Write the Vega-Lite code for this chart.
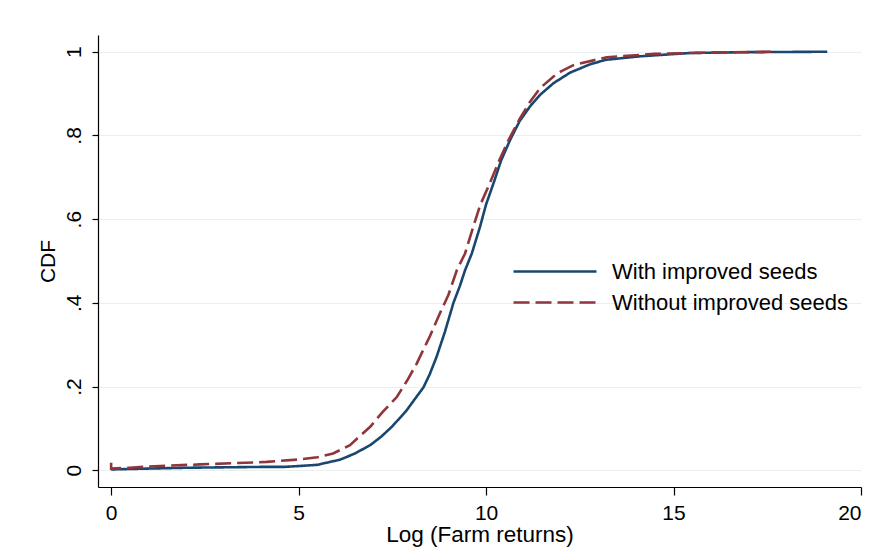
{
  "$schema": "https://vega.github.io/schema/vega-lite/v6.json",
  "autosize": {"type": "none"},
  "width": 763,
  "height": 452,
  "padding": {"left": 98, "top": 35, "right": 10, "bottom": 68},
  "background": "white",
  "config": {"view": {"stroke": null}, "font": "Liberation Sans"},
  "data": {"values": [
    {"group": "With improved seeds", "i": 1, "x": 0, "p": 0.002},
    {"group": "With improved seeds", "i": 2, "x": 1, "p": 0.004},
    {"group": "With improved seeds", "i": 3, "x": 2, "p": 0.006},
    {"group": "With improved seeds", "i": 4, "x": 3, "p": 0.007},
    {"group": "With improved seeds", "i": 5, "x": 4, "p": 0.008},
    {"group": "With improved seeds", "i": 6, "x": 4.6, "p": 0.008},
    {"group": "With improved seeds", "i": 7, "x": 5, "p": 0.01},
    {"group": "With improved seeds", "i": 8, "x": 5.5, "p": 0.013},
    {"group": "With improved seeds", "i": 9, "x": 5.84, "p": 0.02},
    {"group": "With improved seeds", "i": 10, "x": 6.1, "p": 0.025},
    {"group": "With improved seeds", "i": 11, "x": 6.5, "p": 0.04},
    {"group": "With improved seeds", "i": 12, "x": 6.91, "p": 0.06},
    {"group": "With improved seeds", "i": 13, "x": 7.2, "p": 0.08},
    {"group": "With improved seeds", "i": 14, "x": 7.5, "p": 0.105},
    {"group": "With improved seeds", "i": 15, "x": 7.88, "p": 0.143},
    {"group": "With improved seeds", "i": 16, "x": 8.1, "p": 0.17},
    {"group": "With improved seeds", "i": 17, "x": 8.33, "p": 0.198},
    {"group": "With improved seeds", "i": 18, "x": 8.5, "p": 0.23},
    {"group": "With improved seeds", "i": 19, "x": 8.68, "p": 0.271},
    {"group": "With improved seeds", "i": 20, "x": 8.9, "p": 0.33},
    {"group": "With improved seeds", "i": 21, "x": 9.13, "p": 0.4},
    {"group": "With improved seeds", "i": 22, "x": 9.3, "p": 0.44},
    {"group": "With improved seeds", "i": 23, "x": 9.44, "p": 0.478},
    {"group": "With improved seeds", "i": 24, "x": 9.62, "p": 0.518},
    {"group": "With improved seeds", "i": 25, "x": 9.84, "p": 0.582},
    {"group": "With improved seeds", "i": 26, "x": 10.0, "p": 0.635},
    {"group": "With improved seeds", "i": 27, "x": 10.2, "p": 0.686},
    {"group": "With improved seeds", "i": 28, "x": 10.4, "p": 0.74},
    {"group": "With improved seeds", "i": 29, "x": 10.64, "p": 0.789},
    {"group": "With improved seeds", "i": 30, "x": 10.9, "p": 0.835},
    {"group": "With improved seeds", "i": 31, "x": 11.17, "p": 0.869},
    {"group": "With improved seeds", "i": 32, "x": 11.44, "p": 0.897},
    {"group": "With improved seeds", "i": 33, "x": 11.8, "p": 0.925},
    {"group": "With improved seeds", "i": 34, "x": 12.24, "p": 0.95},
    {"group": "With improved seeds", "i": 35, "x": 12.8, "p": 0.971},
    {"group": "With improved seeds", "i": 36, "x": 13.22, "p": 0.981},
    {"group": "With improved seeds", "i": 37, "x": 14.1, "p": 0.989},
    {"group": "With improved seeds", "i": 38, "x": 15.44, "p": 0.997},
    {"group": "With improved seeds", "i": 39, "x": 17, "p": 0.999},
    {"group": "With improved seeds", "i": 40, "x": 19.1, "p": 1.0},
    {"group": "Without improved seeds", "i": 1, "x": 0, "p": 0.018},
    {"group": "Without improved seeds", "i": 2, "x": 0, "p": 0.004},
    {"group": "Without improved seeds", "i": 3, "x": 0.5, "p": 0.006},
    {"group": "Without improved seeds", "i": 4, "x": 1, "p": 0.009},
    {"group": "Without improved seeds", "i": 5, "x": 2.37, "p": 0.014},
    {"group": "Without improved seeds", "i": 6, "x": 3.3, "p": 0.017},
    {"group": "Without improved seeds", "i": 7, "x": 4.15, "p": 0.02},
    {"group": "Without improved seeds", "i": 8, "x": 5.04, "p": 0.026},
    {"group": "Without improved seeds", "i": 9, "x": 5.5, "p": 0.031},
    {"group": "Without improved seeds", "i": 10, "x": 5.92, "p": 0.04},
    {"group": "Without improved seeds", "i": 11, "x": 6.37, "p": 0.06},
    {"group": "Without improved seeds", "i": 12, "x": 6.91, "p": 0.104},
    {"group": "Without improved seeds", "i": 13, "x": 7.25, "p": 0.14},
    {"group": "Without improved seeds", "i": 14, "x": 7.62, "p": 0.175},
    {"group": "Without improved seeds", "i": 15, "x": 7.9, "p": 0.215},
    {"group": "Without improved seeds", "i": 16, "x": 8.15, "p": 0.255},
    {"group": "Without improved seeds", "i": 17, "x": 8.5, "p": 0.32},
    {"group": "Without improved seeds", "i": 18, "x": 8.77, "p": 0.375},
    {"group": "Without improved seeds", "i": 19, "x": 9.0, "p": 0.42},
    {"group": "Without improved seeds", "i": 20, "x": 9.22, "p": 0.478},
    {"group": "Without improved seeds", "i": 21, "x": 9.44, "p": 0.518},
    {"group": "Without improved seeds", "i": 22, "x": 9.66, "p": 0.582},
    {"group": "Without improved seeds", "i": 23, "x": 9.85, "p": 0.635},
    {"group": "Without improved seeds", "i": 24, "x": 10.1, "p": 0.686},
    {"group": "Without improved seeds", "i": 25, "x": 10.35, "p": 0.74},
    {"group": "Without improved seeds", "i": 26, "x": 10.6, "p": 0.789},
    {"group": "Without improved seeds", "i": 27, "x": 10.9, "p": 0.84},
    {"group": "Without improved seeds", "i": 28, "x": 11.17, "p": 0.88},
    {"group": "Without improved seeds", "i": 29, "x": 11.44, "p": 0.913},
    {"group": "Without improved seeds", "i": 30, "x": 11.8, "p": 0.941},
    {"group": "Without improved seeds", "i": 31, "x": 12.0, "p": 0.953},
    {"group": "Without improved seeds", "i": 32, "x": 12.33, "p": 0.968},
    {"group": "Without improved seeds", "i": 33, "x": 13.22, "p": 0.987},
    {"group": "Without improved seeds", "i": 34, "x": 14.5, "p": 0.995},
    {"group": "Without improved seeds", "i": 35, "x": 16, "p": 0.998},
    {"group": "Without improved seeds", "i": 36, "x": 17.7, "p": 1.0}
  ]},
  "mark": {"type": "line", "strokeWidth": 2.6, "clip": true},
  "encoding": {
    "x": {
      "field": "x", "type": "quantitative",
      "scale": {"domain": [-0.35, 20], "nice": false, "zero": false},
      "axis": {
        "values": [0, 5, 10, 15, 20], "grid": false,
        "title": "Log (Farm returns)", "titleFontSize": 22.5, "titleFontWeight": "normal", "titleColor": "black", "titlePadding": 0,
        "labelFontSize": 21, "labelColor": "black", "labelPadding": 7,
        "tickSize": 8, "tickColor": "black", "tickWidth": 1.2,
        "domainColor": "black", "domainWidth": 1.2
      }
    },
    "y": {
      "field": "p", "type": "quantitative",
      "scale": {"domain": [-0.04, 1.04], "nice": false, "zero": false},
      "axis": {
        "values": [0, 0.2, 0.4, 0.6, 0.8, 1],
        "labelExpr": "datum.value == 0 ? '0' : datum.value == 1 ? '1' : replace(format(datum.value, '.1f'), '0.', '.')",
        "grid": true, "gridColor": "#e8eff0", "gridWidth": 1.2,
        "title": "CDF", "titleFontSize": 21, "titleFontWeight": "normal", "titleColor": "black", "titlePadding": 5,
        "labelFontSize": 21, "labelColor": "black", "labelAngle": -90, "labelPadding": 8,
        "tickSize": 6, "tickColor": "black", "tickWidth": 1.2,
        "domainColor": "black", "domainWidth": 1.2
      }
    },
    "color": {
      "field": "group", "type": "nominal",
      "scale": {"domain": ["With improved seeds", "Without improved seeds"], "range": ["#1a476f", "#90353b"]},
      "legend": {
        "orient": "none", "legendX": 414, "legendY": 225, "title": null,
        "symbolType": "M-1,0L7.3,0", "symbolSize": 400, "symbolStrokeWidth": 2.6,
        "labelFontSize": 22, "labelColor": "black", "labelOffset": 77, "labelLimit": 0, "rowPadding": 8, "padding": 0
      }
    },
    "strokeDash": {
      "field": "group", "type": "nominal",
      "scale": {"domain": ["With improved seeds", "Without improved seeds"], "range": [[1, 0], [16, 6]]},
      "legend": {
        "orient": "none", "legendX": 414, "legendY": 225, "title": null,
        "symbolType": "M-1,0L7.3,0", "symbolSize": 400, "symbolStrokeWidth": 2.6,
        "labelFontSize": 22, "labelColor": "black", "labelOffset": 77, "labelLimit": 0, "rowPadding": 8, "padding": 0
      }
    },
    "order": {"field": "i", "type": "quantitative"}
  }
}
